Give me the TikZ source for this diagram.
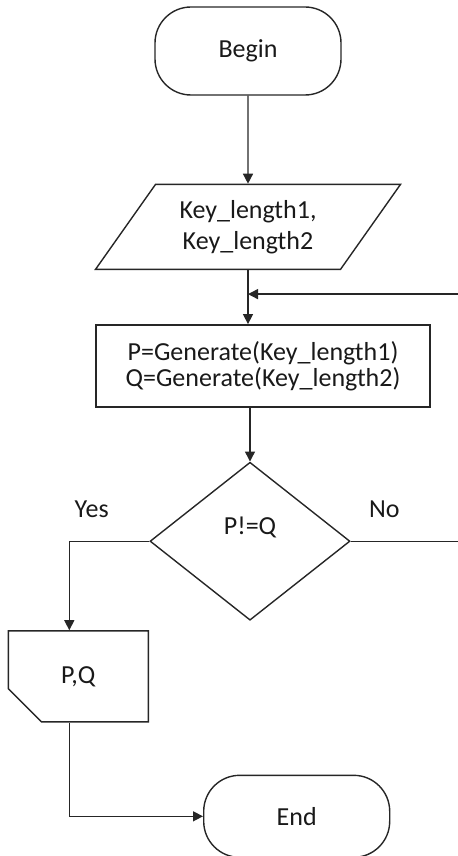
\documentclass[tikz,border=0pt]{standalone}
\usepackage{fontspec}
\setmainfont{Carlito}
\usetikzlibrary{arrows.meta,positioning,shapes.geometric,shapes.misc}

\begin{document}
\begin{tikzpicture}[
  node distance=27pt,
  font=\fontsize{13pt}{13pt}\selectfont,
  every node/.style={text=black!90},
  base/.style={draw=black!85, line width=0.7pt, align=center, inner sep=2pt},
  term/.style={base, rounded corners=18pt, minimum width=93pt, minimum height=#1},
  term/.default=41pt,
  io/.style={base, trapezium, trapezium left angle=54.3, trapezium right angle=125.7,
             trapezium stretches body, inner ysep=7.5pt, minimum width=152.5pt, minimum height=42.5pt},
  proc/.style={base, minimum width=167pt, minimum height=41pt},
  cond/.style={base, diamond, aspect=1.27, minimum width=100pt, minimum height=79pt, inner sep=0pt},
  card/.style={base, chamfered rectangle, chamfered rectangle corners=south west,
               chamfered rectangle xsep=14pt, chamfered rectangle ysep=9.5pt,
               minimum width=70pt, minimum height=45.5pt},
  arr/.style={-{Triangle[length=5pt,width=5pt]}, draw=black!85, line width=0.7pt},
  lbl/.style={yshift=16pt}]
\useasboundingbox (0,0) rectangle (228.5pt,-428pt);
\node[term=44pt] (begin) at (124pt,-25.5pt) {Begin};
\node[io, below=44pt of begin] (inp) {Key\_length1,\\[2.5pt]Key\_length2};
\node[proc, below=of inp, xshift=7.5pt] (gen) {P=Generate(Key\_length1)\\Q=Generate(Key\_length2)};
\node[cond, below=of gen, xshift=-6.5pt] (cmp) {\raisebox{16pt}{P!=Q}};
\node[card, below=44.5pt of cmp.west, xshift=-35.5pt] (out) {P,Q};
\node[term, below right=26pt and 27pt of out.south east] (stop) {End};
\coordinate[below=12pt of inp.south] (jn);
\coordinate[right=60pt of cmp.east] (back);
\draw[arr] (begin) -- (inp);
\draw[arr] (inp.south) -- (inp.south |- gen.north);
\draw[arr] (cmp.north |- gen.south) -- (cmp.north);
\draw[arr] (cmp.east) -- node[lbl, pos=.28]{No} (back) |- (jn);
\draw[arr] (cmp.west) -| node[lbl, pos=.36]{Yes} ([xshift=-4.5pt]out.north);
\draw[arr] ([xshift=-4.5pt]out.south) |- (stop.west);
\end{tikzpicture}
\end{document}
